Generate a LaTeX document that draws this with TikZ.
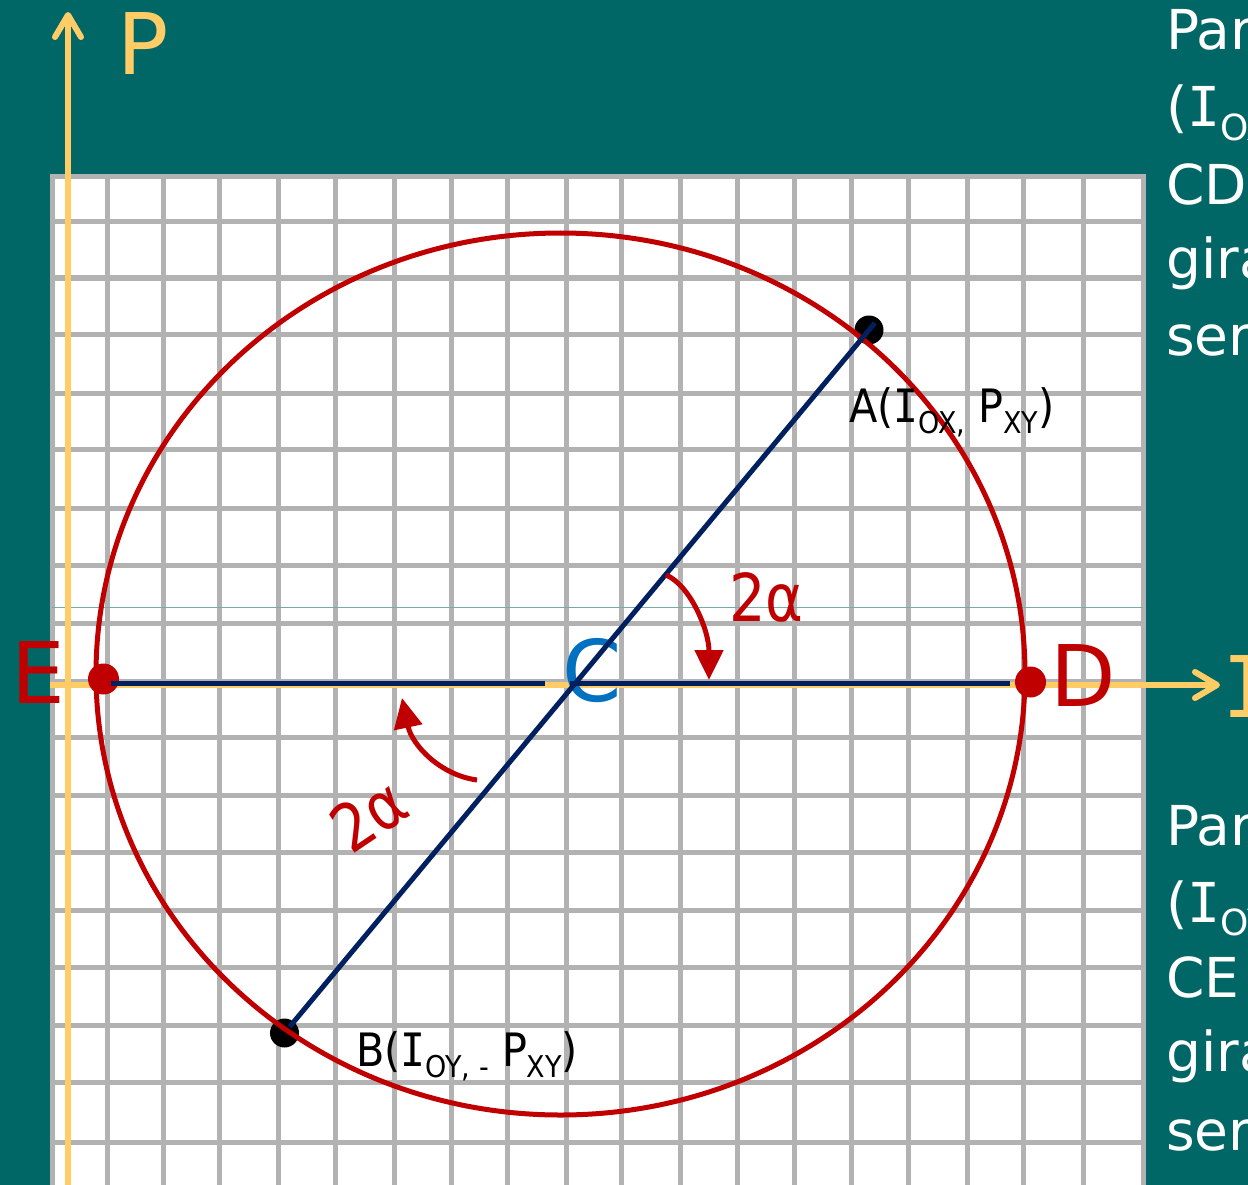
\documentclass[tikz,border=0pt]{standalone}
\usepackage{fontspec}
\setmainfont{DejaVu Sans}
\newfontfamily\monoI{DejaVu Sans Mono}
\usetikzlibrary{arrows.meta}
\definecolor{bgteal}{RGB}{0,102,102}
\definecolor{gridgray}{RGB}{178,178,178}
\definecolor{myred}{RGB}{192,0,0}
\definecolor{mynavy}{RGB}{0,32,96}
\definecolor{myblue}{RGB}{0,112,192}
\definecolor{axisyellow}{RGB}{255,204,102}
\definecolor{faintteal}{RGB}{120,170,170}
\newcommand\dn[2]{\raisebox{-0.24em}{\fontsize{#1}{#1}\selectfont #2}}
\newcommand\serI{{\monoI I}}
\begin{document}
\begin{tikzpicture}[x=1pt,y=-1pt,
  gridline/.style={draw=gridgray, line width=5pt},
  axisline/.style={draw=axisyellow, line width=6pt, -{Straight Barb[length=22pt,width=26pt,round]}},
  navyline/.style={draw=mynavy, line width=5pt},
  ringline/.style={draw=myred, line width=5pt},
  redarrow/.style={draw=myred, line width=5pt, -{Triangle[length=30pt,width=28pt]}},
  reddot/.style={circle, fill=myred, inner sep=0pt, minimum size=31pt},
  blackdot/.style={circle, fill=black, inner sep=0pt, minimum size=29pt},
  lbl/.style={inner sep=0pt, anchor=base west},
  bigletter/.style={lbl, font=\fontsize{85}{85}\selectfont},
  sidetext/.style={lbl, text=white, font=\fontsize{55}{55}\selectfont},
  pointlabel/.style={lbl, text=black, font=\fontsize{46}{46}\selectfont},
  anglelabel/.style={inner sep=0pt, text=myred, font=\fontsize{66}{66}\selectfont}
]
\useasboundingbox (0,0) rectangle (1248,1185);
\clip (0,0) rectangle (1248,1185);
% background
\fill[bgteal] (0,0) rectangle (1248,1185);
\fill[white] (52,177) rectangle (1143,1195);
% grid
\foreach \x in {107,163,219,278,335,394,451,507,566,621,680,737,794,851,908,967,1023,1083}
  \draw[gridline] (\x,177) -- (\x,1195);
\foreach \y in {222,278,334,393,449,508,565,623,681,737,795,852,910,967,1025,1082,1142}
  \draw[gridline] (52,\y) -- (1143,\y);
\draw[gridline] (52,1195) -- (52,177) -- (1143,177) -- (1143,1195);
\draw[draw=faintteal, line width=1pt] (52,607) -- (1143,607);
% axes
\coordinate (Pbot) at (68,1195);
\coordinate (Ptop) at (68,12);
\coordinate (Ileft) at (50,685);
\coordinate (Iright) at (1220,685);
\draw[axisline] (Pbot) -- (Ptop);
\draw[axisline] (Ileft) -- (Iright);
% points
\node[blackdot] (A) at (869,330) {};
\node[blackdot] (B) at (284.5,1033) {};
\node[reddot] (E) at (103.5,679) {};
\node[reddot] (D) at (1030.5,682) {};
% circle
\node[draw=none, inner sep=0pt] (O) at (560.5,674) {};
\draw[ringline] (O) ellipse [x radius=464.5pt, y radius=441pt];
% letters
\node[bigletter, text=axisyellow] (Plab) at (117,75) {P};
\node[bigletter, text=myred] (Elab) at (11,703) {E};
\node[bigletter, text=myred] (Dlab) at (1050,706) {D};
\node[bigletter, text=myblue] (Clab) at (562,701) {C};
\node[bigletter, text=axisyellow] (Ilab) at (1222,717) {\serI};
% horizontal diameter
\coordinate (E1) at (111,683);
\coordinate (C1) at (545,683);
\coordinate (C2) at (570,683);
\coordinate (D1) at (1010,683);
\draw[navyline] (E1) -- (C1);
\draw[navyline] (C2) -- (D1);
% diagonal diameter
\draw[navyline, shorten <=-9pt, shorten >=8pt] (A.center) -- (B.center);
% point labels
\node[pointlabel] (Alab) at (849,422) {\scalebox{0.9}[1]{A(\serI\dn{30}{OX,} P\dn{30}{XY})}};
\node[pointlabel] (Blab) at (356,1066) {\scalebox{0.9}[1]{B(\serI\dn{30}{OY, -} P\dn{30}{XY})}};
% angle arrows
\coordinate (a1s) at (666,575);
\coordinate (a1e) at (709,680);
\draw[redarrow] (a1s) .. controls (690,585) and (709,630) .. (a1e);
\coordinate (a2s) at (477,780);
\coordinate (a2e) at (402,698);
\draw[redarrow] (a2s) .. controls (440,775) and (412,745) .. (a2e);
\node[anglelabel, anchor=base west] (al1) at (729,621) {\scalebox{0.87}[1]{2α}};
\node[anglelabel, rotate=34] (al2) at (369,815) {\scalebox{0.87}[1]{2α}};
% side texts
\node[sidetext] (t1) at (1166,50) {Par};
\node[sidetext] (t2) at (1166,127) {(\serI\dn{36}{OX}};
\node[sidetext] (t3) at (1166,205) {CD};
\node[sidetext] (t4) at (1166,278) {gira};
\node[sidetext] (t5) at (1166,355) {ser};
\node[sidetext] (b1) at (1166,845) {Par};
\node[sidetext] (b2) at (1166,922) {(\serI\dn{36}{OY}};
\node[sidetext] (b3) at (1166,997) {CE};
\node[sidetext] (b4) at (1166,1071) {gira};
\node[sidetext] (b5) at (1166,1150) {ser};
\end{tikzpicture}
\end{document}
